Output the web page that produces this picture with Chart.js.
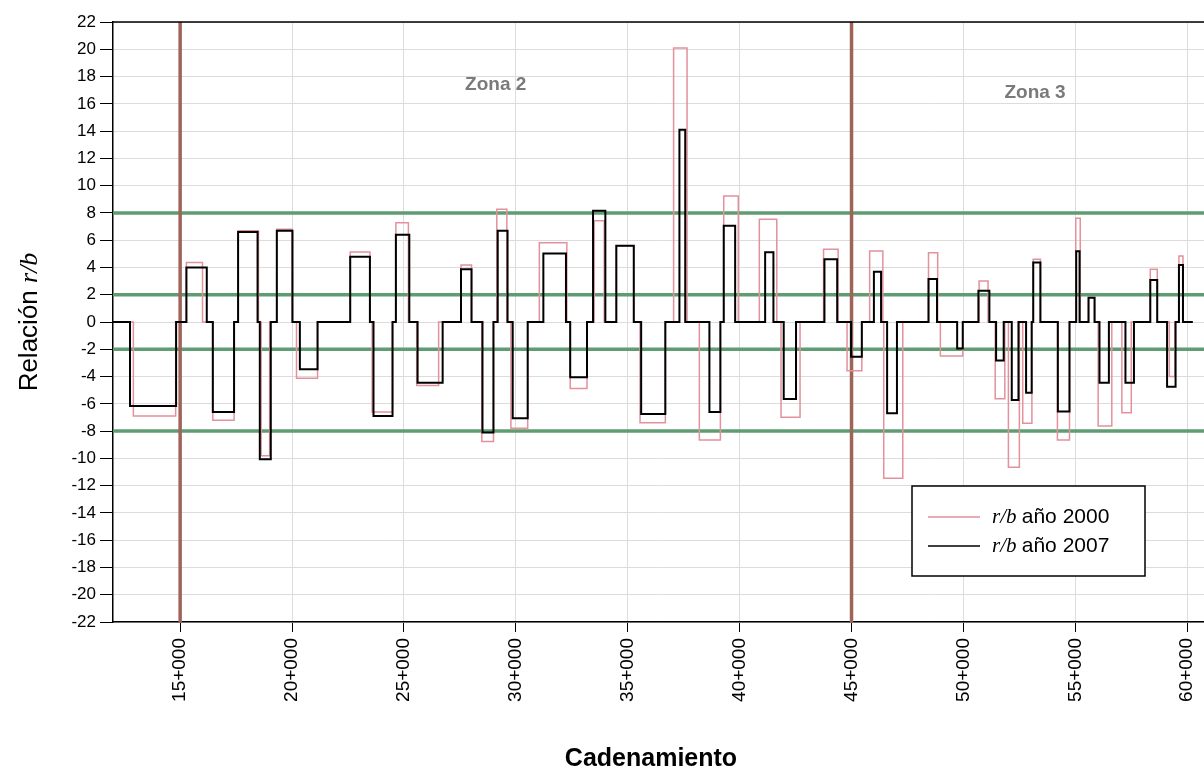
<!DOCTYPE html>
<html>
<head>
<meta charset="utf-8">
<title>Relación r/b por cadenamiento</title>
<script src="https://cdn.jsdelivr.net/npm/chart.js@4.4.0/dist/chart.umd.min.js"></script>
<style>
  body { margin: 0; background: #fff; }
  #wrap { width: 1204px; height: 773px; }
</style>
</head>
<body>
<div id="wrap"><canvas id="myChart" width="1204" height="773"></canvas></div>
<script>
// cadenamiento (km) donde empieza cada tramo y valor r/b del tramo
var km2000 = [12.0, 12.91, 14.8, 15.28, 16.0, 16.46, 17.41, 17.59, 18.5, 18.62, 19.0, 19.32, 20.0, 20.2, 21.14,
  22.6, 23.48, 23.58, 24.49, 24.64, 25.2, 25.57, 26.55, 27.55, 28.02, 28.48, 29.0, 29.15, 29.6, 29.78, 30.53,
  31.05, 32.28, 32.43, 33.18, 33.5, 33.95, 34.49, 35.27, 35.55, 36.68, 37.05, 37.65, 38.2, 39.14, 39.29, 39.94,
  40.88, 41.66, 41.85, 42.7, 43.75, 44.4, 44.8, 45.46, 45.81, 46.4, 46.44, 47.29, 48.44, 48.85, 48.97, 49.97,
  50.7, 51.1, 51.42, 51.85, 52.01, 52.5, 52.65, 53.06, 53.12, 53.44, 54.2, 54.74, 55.02, 55.22, 55.59, 55.86,
  56.02, 56.63, 57.08, 57.5, 58.35, 58.66, 59.2, 59.45, 59.63, 59.81, 60.25];
var rb2000 = [0, -6.9, 0, 4.37, 0, -7.2, 0, 6.7, 0, -9.8, 0, 6.8, 0, -4.13, 0,
  5.13, 0, -6.6, 0, 7.28, 0, -4.65, 0, 4.18, 0, -8.77, 0, 8.26, 0, -7.8, 0,
  5.82, 0, -4.87, 0, 7.43, 0, 5.6, 0, -7.38, 0, 20.1, 0, -8.65, 0, 9.24, 0,
  7.53, 0, -6.99, 0, 5.33, 0, -3.57, 0, 5.2, 0, -11.46, 0, 5.08, 0, -2.49, 0,
  3.0, 0, -5.62, 0, -10.65, 0, -7.43, 0, 4.6, 0, -8.65, 0, 7.6, 0, 1.8, 0,
  -7.62, 0, -6.65, 0, 3.86, 0, -4.0, 0, 4.84, 0, 0];

var km2007 = [12.0, 12.76, 14.82, 15.28, 16.19, 16.46, 17.41, 17.59, 18.46, 18.56, 19.05, 19.32, 20.02, 20.35, 21.14,
  22.6, 23.48, 23.64, 24.49, 24.64, 25.24, 25.61, 26.73, 27.55, 28.02, 28.51, 29.0, 29.19, 29.63, 29.86, 30.53,
  31.23, 32.24, 32.43, 33.18, 33.45, 34.0, 34.49, 35.27, 35.6, 36.68, 37.31, 37.57, 38.65, 39.14, 39.29, 39.8,
  41.14, 41.51, 41.97, 42.52, 43.79, 44.36, 44.98, 45.46, 46.0, 46.32, 46.59, 47.03, 48.44, 48.82, 49.72, 49.97,
  50.67, 51.16, 51.46, 51.8, 52.16, 52.46, 52.8, 53.05, 53.12, 53.44, 54.22, 54.74, 55.04, 55.19, 55.59, 55.86,
  56.08, 56.5, 57.24, 57.62, 58.35, 58.66, 59.1, 59.48, 59.63, 59.81, 60.25];
var rb2007 = [0, -6.16, 0, 4.0, 0, -6.6, 0, 6.6, 0, -10.07, 0, 6.7, 0, -3.47, 0,
  4.79, 0, -6.9, 0, 6.4, 0, -4.45, 0, 3.86, 0, -8.1, 0, 6.7, 0, -7.06, 0,
  5.03, 0, -4.06, 0, 8.16, 0, 5.6, 0, -6.74, 0, 14.1, 0, -6.6, 0, 7.06, 0,
  5.11, 0, -5.65, 0, 4.6, 0, -2.54, 0, 3.69, 0, -6.7, 0, 3.15, 0, -1.95, 0,
  2.3, 0, -2.83, 0, -5.72, 0, -5.18, 0, 4.37, 0, -6.57, 0, 5.18, 0, 1.78, 0,
  -4.45, 0, -4.45, 0, 3.08, 0, -4.74, 0, 4.18, 0, 0];

var xTicks = [15, 20, 25, 30, 35, 40, 45, 50, 55, 60];
var limites = [8, 2, -2, -8];
var zonas = [15, 45];
var xMin = 12.0, xMax = 60.75;
var yMin = -22, yMax = 22;

var rosa = '#e3919b';
var verde = '#5f9c73';
var cafe = '#a0635a';
var sans = "'Liberation Sans', Arial, sans-serif";
var serif = "'Liberation Serif', 'Times New Roman', serif";

function puntos(xs, ys) {
  return xs.map(function (k, i) { return { x: k, y: ys[i] }; });
}

var datasets = [
  { label: 'r/b año 2007', data: puntos(km2007, rb2007), borderColor: '#000', borderWidth: 2, stepped: true, order: 0 },
  { label: 'r/b año 2000', data: puntos(km2000, rb2000), borderColor: rosa, borderWidth: 1.5, stepped: true, order: 1 }
];
zonas.forEach(function (z) {
  datasets.push({ data: [{ x: z, y: yMin }, { x: z, y: yMax }], borderColor: cafe, borderWidth: 3.5, order: 2 });
});
limites.forEach(function (v) {
  datasets.push({ data: [{ x: xMin, y: v }, { x: xMax, y: v }], borderColor: verde, borderWidth: 3.5, order: 3 });
});

// textos de zona, en coordenadas de los ejes
var etiquetas = [
  { text: 'Zona 2', x: 29.1, y: 17.4 },
  { text: 'Zona 3', x: 53.2, y: 16.8 }
];

var extras = {
  id: 'extras',
  afterDraw: function (chart) {
    var c = chart.ctx, a = chart.chartArea;
    var sx = chart.scales.x, sy = chart.scales.y;
    c.save();
    // marco superior
    c.strokeStyle = '#000';
    c.lineWidth = 1.5;
    c.beginPath();
    c.moveTo(a.left, a.top);
    c.lineTo(a.right, a.top);
    c.stroke();

    // zonas
    c.fillStyle = '#7a7a7a';
    c.font = 'bold 19px ' + sans;
    c.textAlign = 'center';
    c.textBaseline = 'middle';
    etiquetas.forEach(function (e) {
      c.fillText(e.text, sx.getPixelForValue(e.x), sy.getPixelForValue(e.y));
    });

    // leyenda
    var lx = 912, ly = 486, lw = 233, lh = 90;
    c.fillStyle = '#fff';
    c.fillRect(lx, ly, lw, lh);
    c.strokeStyle = '#000';
    c.lineWidth = 1.5;
    c.strokeRect(lx, ly, lw, lh);
    [[rosa, 'año 2000', 517, 1.5], ['#000', 'año 2007', 546, 1.5]].forEach(function (it) {
      c.strokeStyle = it[0];
      c.lineWidth = it[3];
      c.beginPath();
      c.moveTo(928, it[2]);
      c.lineTo(980, it[2]);
      c.stroke();
      c.fillStyle = '#000';
      c.textAlign = 'left';
      c.font = 'italic 21px ' + serif;
      c.fillText('r/b', 992, it[2]);
      var w = c.measureText('r/b ').width;
      c.font = '21px ' + sans;
      c.fillText(it[1], 992 + w, it[2]);
    });

    // titulo eje x
    c.fillStyle = '#000';
    c.textAlign = 'center';
    c.font = 'bold 25px ' + sans;
    c.fillText('Cadenamiento', 651, 759);

    // titulo eje y
    c.translate(30, 322);
    c.rotate(-Math.PI / 2);
    c.font = '26px ' + sans;
    var t1 = 'Relación ';
    var w1 = c.measureText(t1).width;
    c.font = 'italic 26px ' + serif;
    var w2 = c.measureText('r/b').width;
    var x0 = -(w1 + w2) / 2;
    c.textAlign = 'left';
    c.font = '26px ' + sans;
    c.fillText(t1, x0, 0);
    c.font = 'italic 26px ' + serif;
    c.fillText('r/b', x0 + w1, 0);
    c.restore();
  }
};

var ctx = document.getElementById('myChart').getContext('2d');
var myChart = new Chart(ctx, {
  type: 'line',
  data: { datasets: datasets },
  options: {
    responsive: false,
    animation: false,
    events: [],
    layout: { padding: { top: 22, right: 0, left: 0, bottom: 0 } },
    plugins: { legend: { display: false }, tooltip: { enabled: false } },
    elements: { point: { radius: 0 }, line: { tension: 0 } },
    scales: {
      x: {
        type: 'linear',
        min: xMin,
        max: xMax,
        afterBuildTicks: function (s) { s.ticks = xTicks.map(function (v) { return { value: v }; }); },
        afterFit: function (s) { s.height = 151; s.paddingRight = 0; s.paddingLeft = 0; },
        grid: { color: '#dcdcdc', lineWidth: 1, tickColor: '#000', tickLength: 10 },
        border: { color: '#000', width: 1.5 },
        ticks: {
          minRotation: 90, maxRotation: 90, padding: 6, color: '#000', autoSkip: false,
          font: { family: sans, size: 19 },
          callback: function (v) { return v + '+000'; }
        }
      },
      y: {
        min: yMin,
        max: yMax,
        afterFit: function (s) { s.width = 113; },
        grid: { color: '#dcdcdc', lineWidth: 1, tickColor: '#000', tickLength: 13 },
        border: { color: '#000', width: 1.5 },
        ticks: { stepSize: 2, padding: 4, color: '#000', autoSkip: false, font: { family: sans, size: 17 } }
      }
    }
  },
  plugins: [extras]
});
</script>
</body>
</html>
